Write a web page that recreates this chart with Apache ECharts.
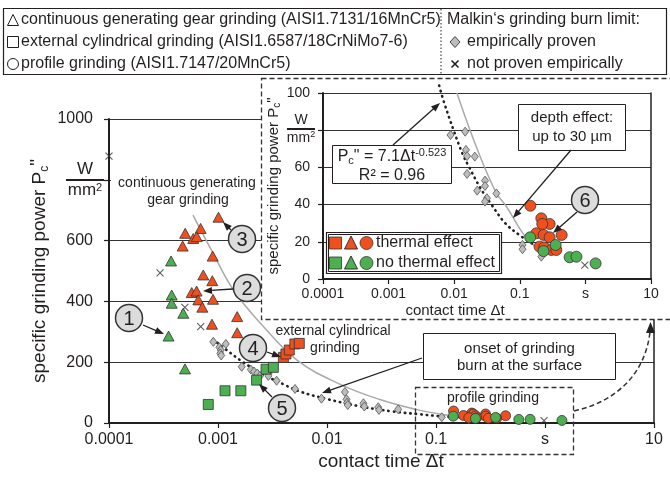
<!DOCTYPE html>
<html><head><meta charset="utf-8">
<script src="https://cdn.jsdelivr.net/npm/echarts@6/dist/echarts.min.js"></script>
<style>html,body{margin:0;padding:0;background:#fff}#c{width:670px;height:479px}</style>
</head><body><div id="c"></div>
<script>
// ---------- data ----------
const xTickLabels = ['0.0001', '0.001', '0.01', '0.1', 's', '10'];
const mainYTicks = [0, 200, 400, 600, 800, 1000];   // 800 label replaced by unit
const insetYTicks = [0, 20, 40, 60, 80, 100];       // 80 label replaced by unit

// continuous generating gear grinding (triangles)
const triRed = [[0.00101,677],[0.000693,640],[0.0005,624],[0.000593,607],[0.000638,613],[0.000474,582],[0.000894,549],[0.000733,487],[0.000887,468],[0.000574,429],[0.000636,434],[0.00066,405],[0.0009,407],[0.000718,381],[0.0015,350],[0.00088,325],[0.0015,297]];
const triGreen = [[0.000371,533],[0.000376,421],[0.000376,394],[0.00048,361],[0.000352,286],[0.000498,178]];
// external cylindrical grinding (squares)
const sqRed = [[0.00398,216],[0.0042,227],[0.00451,240],[0.00507,260],[0.00557,262]];
const sqGreen = [[0.00276,177],[0.00322,183],[0.00226,141],[0.00116,106],[0.00162,106],[0.000814,61]];
// profile grinding (circles)
const circRed = [[0.145,39.4],[0.213,32.6],[0.285,29.6],[0.22,29.6],[0.179,24.6],[0.231,23.7],[0.285,22.4],[0.435,23.7],[0.2,17.4],[0.236,17],[0.302,15.6],[0.36,15.6]];
const circGreen = [[0.144,22.4],[0.352,18.3],[0.23,15],[0.575,11.7],[0.73,12],[1.43,8.4]];
// Malkin's limit, empirically proven (diamonds)
const diaMain = [[0.000906,267],[0.00103,249],[0.00106,240],[0.00105,229],[0.00107,222],[0.00118,260],[0.00165,185],[0.002,176],[0.00214,169],[0.00229,163],[0.00243,155],[0.0029,163],[0.0029,155],[0.00345,139],[0.00509,112],[0.0089,80],[0.0146,102],[0.0151,78],[0.0153,67],[0.0155,59],[0.0216,65],[0.022,54],[0.0295,52],[0.030,43],[0.045,45],[0.113,19],[0.2,12]];
const diaInset = [[0.00879,77.4],[0.0147,79.2],[0.0151,69.4],[0.0157,66.1],[0.0206,65.8],[0.0157,56.5],[0.0295,52.9],[0.0295,50],[0.0224,47.5],[0.0316,43.4],[0.0295,41.6],[0.044,46],[0.11,18.3],[0.11,16],[0.213,12]];
// not proven empirically (crosses)
const crossMain = [[0.0001,878],[0.000294,494],[0.000497,380],[0.000694,317],[0.98,8]];
const crossInset = [[0.98,7.5]];
// curves
const fitMain = [[0.0009,275],[0.0012,240],[0.0017,200],[0.0025,163],[0.004,127],[0.0057,103],[0.01,79],[0.02,55],[0.04,38],[0.07,29],[0.12,21],[0.2,16.5]];
const fitInset = [[0.0059,104],[0.007,95],[0.0098,80],[0.0135,67],[0.017,60],[0.025,49],[0.037,40],[0.06,30],[0.1,23.5],[0.2,16.5]];
const grayMain = [[0.00059,684],[0.0009,559],[0.0014,435],[0.0025,325],[0.0053,207],[0.0131,128],[0.03,78],[0.0667,44],[0.12,27],[0.243,13]];
const grayInset = [[0.011,100],[0.0218,71],[0.0441,46],[0.0625,39],[0.1146,24],[0.2,15.5]];

// ---------- styles ----------
const FONT = '"Liberation Sans", Arial, Helvetica, sans-serif';
const RED = '#F0501E', GREEN = '#4CAF50', INK = '#231f20';
const crossPath = 'path://M0,0L10,10M10,0L0,10';

const chart = echarts.init(document.getElementById('c'), null, {renderer: 'canvas'});
const xFmt = v => xTickLabels[Math.round(Math.log10(v)) + 4] || '';

function xAx(grid, fs, margin, z) {
  return {type: 'log', gridIndex: grid, logBase: 10, min: 0.0001, max: 10, splitNumber: 5, z: z,
    axisLine: {show: true, lineStyle: {color: INK, width: 2}},
    axisTick: {show: true, length: 5, lineStyle: {color: INK, width: 1.2}},
    minorTick: {show: false}, splitLine: {show: false},
    axisLabel: {formatter: xFmt, fontSize: fs, color: INK, fontFamily: FONT, margin: margin, showMinLabel: true, showMaxLabel: true}};
}
function yAx(grid, max, interval, fs, margin, hideVal, z) {
  return {type: 'value', gridIndex: grid, min: 0, max: max, interval: interval, z: z,
    axisLine: {show: true, lineStyle: {color: INK, width: 2}},
    axisTick: {show: true, length: 5, lineStyle: {color: INK, width: 1.2}},
    splitLine: {show: true, lineStyle: {color: '#333', width: 1}},
    axisLabel: {fontSize: fs, color: INK, fontFamily: FONT, margin: margin,
      formatter: v => (v === hideVal ? '' : String(v))}};
}
function rightAx(grid, max, z) {
  return {type: 'value', gridIndex: grid, min: 0, max: max, position: 'right', z: z,
    axisLine: {show: true, lineStyle: {color: INK, width: 1.5}}, axisTick: {show: false},
    axisLabel: {show: false}, splitLine: {show: false}};
}
function sc(data, xi, yi, symbol, size, color, z, border) {
  return {type: 'scatter', xAxisIndex: xi, yAxisIndex: yi, data: data, symbol: symbol, symbolSize: size, z: z,
    itemStyle: {color: color, borderColor: border || '#333', borderWidth: 0.8, opacity: 1}, silent: true, animation: false};
}
function ln(data, xi, yi, style, z, clip) {
  return {type: 'line', xAxisIndex: xi, yAxisIndex: yi, data: data, smooth: 0.4, symbol: 'none', z: z,
    lineStyle: style, clip: clip !== false, silent: true, animation: false};
}
const crossStyle = (data, xi, yi, z) => ({type: 'scatter', xAxisIndex: xi, yAxisIndex: yi, data: data, symbol: crossPath, symbolSize: 7, z: z,
  itemStyle: {color: 'transparent', borderColor: '#333', borderWidth: 1.1}, silent: true, animation: false});

const dotted = {color: '#222', width: 2.6, type: [0.5, 5], cap: 'round'};
const grayLn = {color: '#aaaaaa', width: 1.5};

const series = [
  // main chart
  ln(grayMain, 0, 0, grayLn, 2),
  ln(fitMain, 0, 0, dotted, 2),
  sc(diaMain, 0, 0, 'diamond', [7, 9], '#bdbdbd', 3, '#555'),
  crossStyle(crossMain, 0, 0, 3),
  sc(triRed, 0, 0, 'triangle', [11, 10], RED, 4),
  sc(triGreen, 0, 0, 'triangle', [11, 10], GREEN, 4),
  sc(sqRed, 0, 0, 'rect', 10, RED, 4),
  sc(sqGreen, 0, 0, 'rect', 10, GREEN, 4),
  sc(circRed, 0, 0, 'circle', 10, RED, 4),
  sc(circGreen, 0, 0, 'circle', 10, GREEN, 4),
  // inset
  ln(grayInset, 1, 1, grayLn, 12),
  ln(fitInset, 1, 1, dotted, 12, false),
  sc(diaInset, 1, 1, 'diamond', [7, 9], '#bdbdbd', 13, '#555'),
  crossStyle(crossInset, 1, 1, 13),
  sc(circRed, 1, 1, 'circle', 11, RED, 14),
  sc(circGreen, 1, 1, 'circle', 11, GREEN, 14)
];

// ---------- graphic helpers ----------
function txt(x, y, text, size, opts) {
  opts = opts || {};
  return {type: 'text', x: x, y: y, z: opts.z || 30, rotation: opts.rot || 0,
    style: Object.assign({text: text, font: size + 'px ' + FONT, fill: INK,
      align: opts.align || 'center', verticalAlign: 'middle',
      textAlign: opts.align || 'center', textVerticalAlign: 'middle'}, opts.style || {})};
}
function rect(x, y, w, h, opts) {
  opts = opts || {};
  return {type: 'rect', z: opts.z || 25, shape: {x: x, y: y, width: w, height: h},
    style: {fill: opts.fill === undefined ? '#fff' : opts.fill, stroke: opts.stroke === undefined ? INK : opts.stroke,
      lineWidth: opts.lw || 1, lineDash: opts.dash || null}};
}
function seg(x1, y1, x2, y2, lw, z, dash) {
  return {type: 'line', z: z || 30, shape: {x1: x1, y1: y1, x2: x2, y2: y2}, style: {stroke: INK, lineWidth: lw || 1, lineDash: dash || null}};
}
function arrow(x1, y1, x2, y2, z) {
  const dx = x2 - x1, dy = y2 - y1, L = Math.hypot(dx, dy), ux = dx / L, uy = dy / L;
  const hl = 9, hw = 3.5, bx = x2 - ux * hl, by = y2 - uy * hl;
  return [
    seg(x1, y1, bx + ux, by + uy, 1.3, z || 31),
    {type: 'polygon', z: z || 31, shape: {points: [[x2, y2], [bx - uy * hw, by + ux * hw], [bx + uy * hw, by - ux * hw]]}, style: {fill: INK}}
  ];
}
function numCircle(cx, cy, n) {
  return [
    {type: 'circle', z: 32, shape: {cx: cx, cy: cy, r: 13.5}, style: {fill: '#dcdcdc', stroke: '#333', lineWidth: 1.5}},
    txt(cx, cy + 1, String(n), 20, {z: 33})
  ];
}
function unitFrac(cx, cy, size, w) {
  return [
    txt(cx, cy - size * 0.62, 'W', size, {z: 30}),
    seg(cx - w / 2, cy, cx + w / 2, cy, 2, 30),
    txt(cx, cy + size * 0.62, '{a|mm}{s|2}', size, {z: 30, style: {rich: {a: {font: size + 'px ' + FONT, fill: INK}, s: {font: Math.round(size * 0.65) + 'px ' + FONT, fill: INK, padding: [0, 0, 6, 0]}}}})
  ];
}
function triShape(cx, cy, s, fill, stroke) {
  return {type: 'polygon', z: 30, shape: {points: [[cx, cy - s / 2], [cx + s / 2, cy + s / 2], [cx - s / 2, cy + s / 2]]}, style: {fill: fill, stroke: stroke, lineWidth: 1}};
}

const G = [];
// white rect behind gear grinding label (hides 800 grid line)
G.push(rect(111, 171, 150, 41, {stroke: 'none', z: 1}));
// inset background + dashed border
G.push(rect(261.5, 78.5, 420, 241, {stroke: '#333', dash: [5, 3], lw: 1.3, z: 1}));

// top legend box
G.push(rect(3.5, 8.5, 663, 66, {z: 25, lw: 1.2}));
G.push(seg(441, 9, 441, 74, 1, 26, [1.5, 2]));
const rows = [20, 42, 64];
G.push(triShape(13, rows[0], 11, 'none', INK));
G.push(rect(7.5, rows[1] - 5.5, 11, 11, {fill: 'none', z: 30}));
G.push({type: 'circle', z: 30, shape: {cx: 13, cy: rows[2], r: 5.5}, style: {fill: 'none', stroke: INK, lineWidth: 1}});
G.push(txt(21, rows[0], 'continuous generating gear grinding (AISI1.7131/16MnCr5)', 16, {align: 'left'}));
G.push(txt(21, rows[1], 'external cylindrical grinding (AISI1.6587/18CrNiMo7-6)', 16, {align: 'left'}));
G.push(txt(21, rows[2], 'profile grinding (AISI1.7147/20MnCr5)', 16, {align: 'left'}));
G.push(txt(447, rows[0], 'Malkin\u2018s grinding burn limit:', 16, {align: 'left'}));
G.push({type: 'polygon', z: 30, shape: {points: [[455, rows[1] - 5.5], [460, rows[1]], [455, rows[1] + 5.5], [450, rows[1]]]}, style: {fill: '#bdbdbd', stroke: '#444', lineWidth: 1}});
G.push(txt(467, rows[1], 'empirically proven', 16, {align: 'left'}));
G.push(seg(451.5, rows[2] - 3.5, 458.5, rows[2] + 3.5, 1.6, 30));
G.push(seg(458.5, rows[2] - 3.5, 451.5, rows[2] + 3.5, 1.6, 30));
G.push(txt(467, rows[2], 'not proven empirically', 16, {align: 'left'}));

// axis names (main)
const richP = (fs) => ({a: {font: fs + 'px ' + FONT, fill: INK}, s: {font: Math.round(fs * 0.65) + 'px ' + FONT, fill: INK, padding: [fs * 0.45, 0, 0, 0]}, q: {font: fs + 'px ' + FONT, fill: INK, padding: [0, 0, fs * 0.2, 0]}});
G.push(txt(381, 462, 'contact time \u0394t', 19, {z: 30}));
G.push(txt(40, 271, '{a|specific grinding power P}{s|c}{q|"}', 19, {rot: Math.PI / 2, z: 30, style: {rich: richP(19)}}));
G.push(...unitFrac(85, 180, 17, 38));
// inset axis names
G.push(txt(455, 311, 'contact time \u0394t', 15, {z: 30}));
G.push(txt(274, 186, '{a|specific grinding power P}{s|c}{q|"}', 15, {rot: Math.PI / 2, z: 30, style: {rich: richP(15)}}));
G.push(...unitFrac(301, 129, 14, 28));

// main chart labels
G.push(txt(187, 183, 'continuous generating', 14, {z: 30}));
G.push(txt(188, 200, 'gear grinding', 14, {z: 30}));
G.push(txt(333, 331, 'external cylindrical', 14, {z: 30}));
G.push(txt(335, 348, 'grinding', 14, {z: 30}));
G.push(rect(415.5, 387.5, 158, 67, {fill: 'none', stroke: '#333', dash: [5, 3], lw: 1.3, z: 20}));
G.push(txt(493, 398, 'profile grinding', 14, {z: 30}));
G.push(rect(423.5, 333.5, 192, 46, {z: 25}));
G.push(txt(519.5, 349, 'onset of grinding', 15, {z: 30}));
G.push(txt(519.5, 366, 'burn at the surface', 15, {z: 30}));
// dashed curved arrow from profile box to inset
G.push({type: 'bezierCurve', z: 20, shape: {x1: 574, y1: 411, x2: 650, y2: 332, cpx1: 615, cpy1: 402, cpx2: 645, cpy2: 375}, style: {stroke: '#333', lineWidth: 1.5, lineDash: [5, 3], fill: 'none'}});
G.push({type: 'polygon', z: 20, shape: {points: [[650.5, 322], [646, 333], [655, 333]]}, style: {fill: '#222'}});

// inset boxes
G.push(rect(332.5, 145.5, 119, 38, {z: 25}));
G.push(txt(392, 157, '{a|P}{s|c}{a|" = 7.1\u0394t}{p|-0.523}', 16, {z: 30, style: {rich: {a: {font: '16px ' + FONT, fill: INK}, s: {font: '11px ' + FONT, fill: INK, padding: [8, 0, 0, 0]}, p: {font: '11px ' + FONT, fill: INK, padding: [0, 0, 8, 0]}}}}));
G.push(txt(392, 176, 'R\u00b2 = 0.96', 16, {z: 30}));
G.push(rect(518.5, 104.5, 107, 46, {z: 25}));
G.push(txt(572, 118, 'depth effect:', 15, {z: 30}));
G.push(txt(572, 137, 'up to 30 \u00b5m', 15, {z: 30}));
// inset legend
G.push(rect(326.5, 232.5, 175, 41, {z: 25, lw: 1.2}));
G.push(rect(328.5, 234.5, 171, 37, {z: 26, fill: 'none', lw: 1}));
[[243, RED, 'thermal effect'], [263, GREEN, 'no thermal effect']].forEach(r => {
  G.push(rect(329.5, r[0] - 6, 12, 12, {fill: r[1], stroke: '#333', lw: 0.8, z: 30}));
  G.push(triShape(351, r[0] - 0.5, 13, r[1], '#333'));
  G.push({type: 'circle', z: 30, shape: {cx: 366.5, cy: r[0], r: 6.5}, style: {fill: r[1], stroke: '#333', lineWidth: 0.8}});
  G.push(txt(376, r[0], r[2], 16, {align: 'left', z: 30}));
});

// numbered circles and arrows
G.push(...numCircle(129, 318, 1), ...arrow(143, 325, 164, 334));
G.push(...numCircle(247, 288, 2), ...arrow(233, 289, 203, 291));
G.push(...numCircle(242, 239, 3), ...arrow(231, 230, 223, 222));
G.push(...numCircle(253, 348, 4), ...arrow(267, 352, 281, 357));
G.push(...numCircle(282, 408, 5), ...arrow(272, 397, 259, 384));
G.push(...numCircle(585, 200, 6), ...arrow(577, 212, 553, 233));
G.push(...arrow(422, 358, 322, 393));
G.push(...arrow(393, 145, 440, 103));
G.push(...arrow(571, 150, 513, 218));

chart.setOption({
  animation: false,
  backgroundColor: '#fff',
  textStyle: {fontFamily: FONT},
  grid: [
    {left: 109, right: 16, top: 119, bottom: 56},
    {left: 323, right: 19, top: 93, bottom: 200}
  ],
  xAxis: [xAx(0, 16, 9, 0), xAx(1, 14, 8, 10)],
  yAxis: [
    yAx(0, mainYTicks[mainYTicks.length - 1], mainYTicks[1] - mainYTicks[0], 16, 16, 800, 0),
    yAx(1, insetYTicks[insetYTicks.length - 1], insetYTicks[1] - insetYTicks[0], 14, 13, 80, 10),
    rightAx(0, mainYTicks[mainYTicks.length - 1], 0),
    rightAx(1, insetYTicks[insetYTicks.length - 1], 10)
  ],
  series: series,
  graphic: {elements: G}
});
</script></body></html>
